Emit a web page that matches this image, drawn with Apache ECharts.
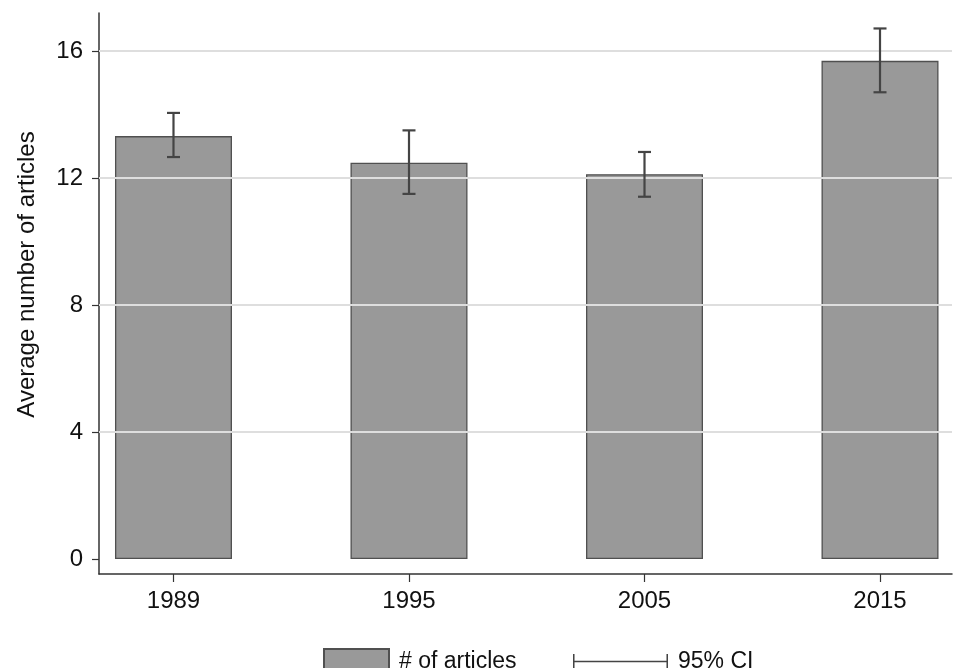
<!DOCTYPE html>
<html>
<head>
<meta charset="utf-8">
<title>Average number of articles</title>
<script src="https://cdn.jsdelivr.net/npm/echarts@6/dist/echarts.min.js"></script>
<style>
  html, body { margin: 0; padding: 0; background: #fff; }
  #chart { width: 954px; height: 668px; }
</style>
</head>
<body>
<div id="chart"></div>
<script>
// Survey years and mean article counts with 95% confidence bounds
const years = ['1989', '1995', '2005', '2015'];
const meanArticles = [13.32, 12.48, 12.12, 15.69];
const ciLower = [12.66, 11.50, 11.41, 14.70];
const ciUpper = [14.05, 13.50, 12.82, 16.71];
const yTicks = [0, 4, 8, 12, 16];

const FONT = '"Liberation Sans", Arial, Helvetica, sans-serif';
const positions = years.map((_, i) => i);

const chart = echarts.init(document.getElementById('chart'), null, { renderer: 'canvas' });

const barData = positions.map((p, i) => [p, meanArticles[i]]);
const ciData = positions.map((p, i) => [p, ciLower[i], ciUpper[i]]);

chart.setOption({
  animation: false,
  backgroundColor: '#ffffff',
  textStyle: { fontFamily: FONT },
  grid: { left: 99, right: 2, top: 13, bottom: 94, containLabel: false },
  xAxis: {
    type: 'value',
    min: -0.3163,
    max: 3.3057,
    axisLine: { show: true, onZero: false, lineStyle: { color: '#333', width: 1.5 } },
    axisTick: { show: true, length: 8, customValues: positions, lineStyle: { color: '#333', width: 1.2 } },
    axisLabel: {
      customValues: positions,
      formatter: v => years[Math.round(v)],
      color: '#111', fontSize: 24, fontFamily: FONT, margin: 15
    },
    splitLine: { show: false }
  },
  yAxis: {
    type: 'value',
    min: -0.472,
    max: 17.197,
    name: 'Average number of articles',
    nameLocation: 'middle',
    nameGap: 60,
    nameTextStyle: { color: '#111', fontSize: 24, fontFamily: FONT, padding: [0, 0, 0, 38] },
    axisLine: { show: true, onZero: false, lineStyle: { color: '#333', width: 1.5 } },
    axisTick: { show: true, length: 7, customValues: yTicks, lineStyle: { color: '#333', width: 1.2 } },
    axisLabel: { customValues: yTicks, color: '#111', fontSize: 24, fontFamily: FONT, margin: 16 },
    splitLine: { show: false }
  },
  legend: [
    {
      data: [{ name: '# of articles', icon: 'rect' }],
      left: 318, top: 643,
      itemWidth: 65, itemHeight: 26, itemGap: 10,
      textStyle: { fontSize: 23, color: '#111', fontFamily: FONT, padding: [0, 0, 0, 5] }
    },
    {
      data: [{
        name: '95% CI',
        icon: 'path://M0,0 H1.6 V7.2 H98.4 V0 H100 V16 H98.4 V8.8 H1.6 V16 H0 Z'
      }],
      left: 568, top: 645,
      itemWidth: 95, itemHeight: 16,
      textStyle: { fontSize: 23, color: '#111', fontFamily: FONT, padding: [0, 0, 0, 5] }
    }
  ],
  series: [
    {
      // horizontal reference lines at the labelled y ticks, behind the bars
      name: 'gridlines',
      type: 'line',
      data: [],
      z: 1,
      markLine: {
        silent: true,
        symbol: 'none',
        label: { show: false },
        lineStyle: { color: '#dedede', width: 1.8, type: 'solid' },
        data: yTicks.filter(t => t > 0).map(t => ({ yAxis: t }))
      }
    },
    {
      name: '# of articles',
      type: 'bar',
      barWidth: 117,
      data: barData,
      itemStyle: { color: '#999999', borderColor: '#505050', borderWidth: 1.3 },
      z: 2
    },
    {
      name: '95% CI',
      type: 'custom',
      data: ciData,
      itemStyle: { color: '#444444' },
      encode: { x: 0, y: [1, 2] },
      renderItem: function (params, api) {
        const x = api.value(0);
        const lo = api.coord([x, api.value(1)]);
        const hi = api.coord([x, api.value(2)]);
        const half = 6.5;
        const style = { stroke: '#444444', lineWidth: 2.2, fill: null };
        return {
          type: 'group',
          children: [
            { type: 'line', shape: { x1: lo[0], y1: lo[1], x2: hi[0], y2: hi[1] }, style },
            { type: 'line', shape: { x1: hi[0] - half, y1: hi[1], x2: hi[0] + half, y2: hi[1] }, style },
            { type: 'line', shape: { x1: lo[0] - half, y1: lo[1], x2: lo[0] + half, y2: lo[1] }, style }
          ]
        };
      },
      z: 5
    }
  ]
});
</script>
</body>
</html>
